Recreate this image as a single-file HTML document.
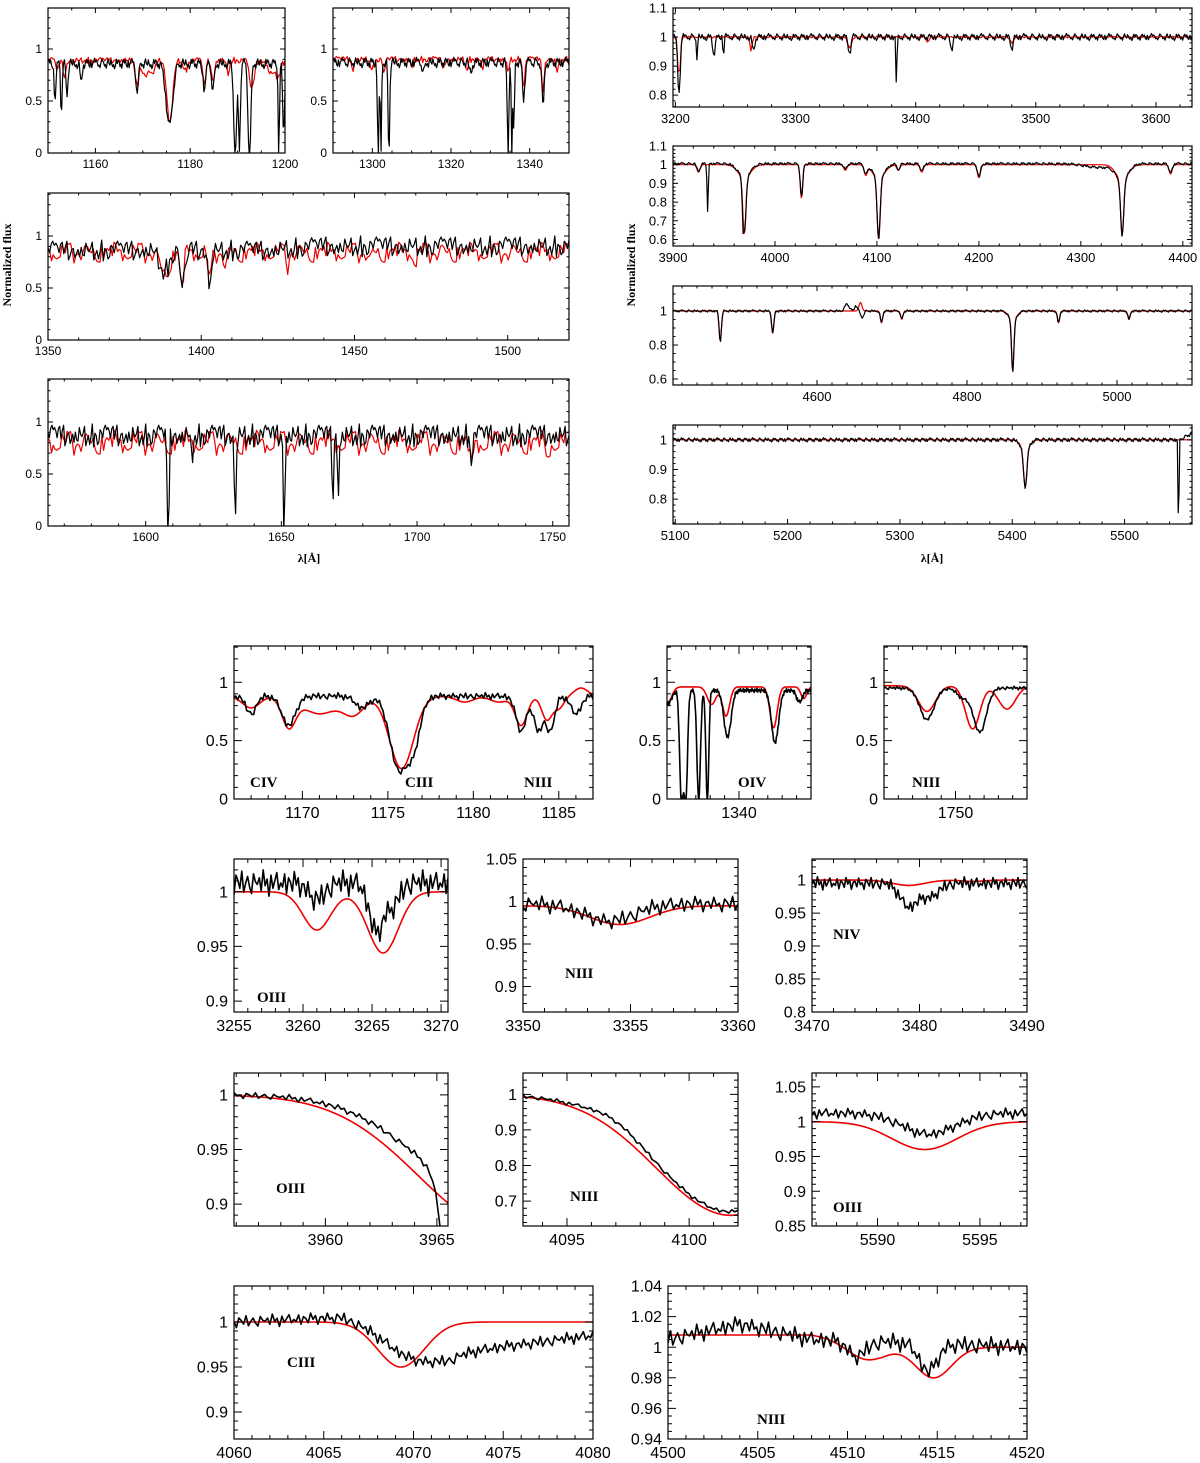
<!DOCTYPE html>
<html><head><meta charset="utf-8"><style>
html,body{margin:0;padding:0;background:#fff;}
svg{display:block;}
</style></head><body>
<svg id="fig" width="1200" height="1463" viewBox="0 0 1200 1463" xmlns="http://www.w3.org/2000/svg">
<rect width="1200" height="1463" fill="#fff"/>
<text x="11" y="265" transform="rotate(-90 11 265)" text-anchor="middle" font-family="Liberation Serif, serif" font-weight="bold" font-size="12">Normalized flux</text>
<text x="635" y="265" transform="rotate(-90 635 265)" text-anchor="middle" font-family="Liberation Serif, serif" font-weight="bold" font-size="12">Normalized flux</text>
<text x="309" y="562" text-anchor="middle" font-family="Liberation Serif, serif" font-weight="bold" font-size="12">λ[Å]</text>
<text x="932" y="562" text-anchor="middle" font-family="Liberation Serif, serif" font-weight="bold" font-size="12">λ[Å]</text>
</svg>
<script>
// shared residual pattern (read as fluctuation shape)
const J = [0.3,-0.5,0.8,-0.2,0.1,-0.9,0.6,0.2,-0.4,0.9,-0.7,0.0,0.5,-0.3,-0.8,0.7,0.1,-0.1,0.4,-0.6,1.0,-0.2,0.3,-1.0,0.6,-0.4,0.2,0.8,-0.5,0.0,-0.3,0.7,-0.8,0.4,0.1,-0.6,0.9,-0.1,0.5,-0.9,0.2];

// line lists: [center, depth, width]
const p1_model_lines = [[1152,.1,.3],[1153.5,.15,.3],[1168.8,.25,.35],[1170.5,.15,.6],[1172,.13,.6],[1175.7,.6,.6],[1179,.1,.4],[1183,.25,.3],[1184.8,.2,.3],[1188,.12,.3],[1193,.28,.5],[1197,.12,.6],[1198.5,.15,.6]];
const p1_obs_lines = [[1151.5,.35,.2],[1152.8,.5,.15],[1154,.3,.2],[1157,.2,.2],[1168.8,.25,.3],[1175.6,.6,.7],[1183,.25,.3],[1184.8,.25,.3],[1189.5,.9,.3],[1190.4,.8,.2],[1192.5,.9,.3],[1198.7,.85,.15],[1199.7,.7,.2]];
const p2_model_lines = [[1295,.1,.3],[1300,.1,.4],[1303,.15,.3],[1310,.08,.3],[1318,.1,.3],[1324,.1,.3],[1328,.12,.3],[1334.5,.12,.3],[1338.5,.25,.3],[1343.4,.3,.3],[1347,.12,.3]];
const p2_obs_lines = [[1301.5,.9,.2],[1302.2,.9,.15],[1304.2,.9,.2],[1313,.1,.3],[1325,.1,.3],[1334.5,.9,.2],[1335.5,.9,.15],[1336,.7,.15],[1338.5,.35,.3],[1343.4,.4,.3]];
const p3_model_lines = [[1388,.2,1.5],[1393.7,.35,.6],[1402.8,.3,.6],[1408,.15,.5],[1428,.12,.5],[1455,.1,.5],[1470,.1,.5]];
const p3_obs_lines = [[1388,.2,1.5],[1393.7,.45,.5],[1395,.2,.4],[1402.8,.35,.5]];
const p3_obs_cont = [[1350,.86],[1420,.86],[1440,.9],[1520,.9]];
const p4_model_lines = [[1720,.25,.6],[1748,.2,.5]];
const p4_obs_lines = [[1608,.7,.25],[1608.5,.8,.25],[1617,.25,.3],[1633,.85,.3],[1651,.95,.3],[1669,.6,.3],[1671,.55,.3],[1720,.2,.5]];
const p5_model_lines = [[3203,.15,1],[3263,.05,.8],[3345,.04,1.5],[3410,.02,1],[3480,.02,1.5]];
const p5_obs_lines = [[3203,.2,1],[3218,.07,.5],[3232,.06,1],[3240,.08,.4],[3265,.05,1],[3345,.06,1],[3384,.2,.4],[3430,.04,1],[3480,.04,1]];
const p6_model_lines = [[3925,.04,1.5],[3970,.3,1.5],[3970,.07,6],[4026,.18,1.2],[4069,.03,1.5],[4089,.05,1.5],[4101.7,.33,1.5],[4101.7,.07,6],[4121,.03,1.5],[4144,.04,1.5],[4200,.07,1.5],[4340.5,.3,1.5],[4340.5,.08,6],[4388,.05,1.5]];
const p6_obs_lines = [[3925,.04,1.5],[3934,.25,.6],[3968.5,.1,.5],[3970,.3,1.5],[3970,.07,6],[4026,.18,1.2],[4069,.03,1.5],[4089,.05,1.5],[4101.7,.33,1.5],[4101.7,.07,6],[4121,.03,1.5],[4144,.04,1.5],[4200,.07,1.5],[4320,.02,15],[4340.5,.3,1.5],[4340.5,.08,6],[4388,.05,1.5]];
const p7_model_lines = [[4471,.18,1.5],[4541,.13,1.5],[4658,-.05,2],[4686,.07,1.5],[4713,.05,1.5],[4861,.3,1.5],[4861,.06,5],[4922,.07,1.5],[5016,.05,1.5]];
const p7_obs_lines = [[4471,.18,1.5],[4541,.13,1.5],[4640,-.04,3],[4652,-.03,2],[4660,.04,2],[4686,.07,1.5],[4713,.05,1.5],[4861,.3,1.5],[4861,.06,5],[4922,.07,1.5],[5016,.05,1.5]];
const p8_model_lines = [[5411.5,.13,1.5],[5411.5,.03,4]];
const p8_obs_lines = [[5411.5,.13,1.5],[5411.5,.03,4],[5548,.35,.4],[5560,-.02,5]];
const pa_model_lines = [[1167,.1,.5],[1169.2,.25,.4],[1171,.15,1],[1173,.15,.6],[1175.8,.62,.7],[1179.5,.05,.5],[1181.5,.05,.5],[1182.8,.25,.35],[1184.3,.2,.3],[1185,.1,.3],[1186.3,-.07,.4]];
const pa_obs_lines = [[1167,.15,.3],[1169.2,.25,.4],[1173.5,.1,.4],[1175.6,.6,.5],[1176.5,.4,.4],[1182.8,.3,.3],[1183.8,.3,.25],[1184.5,.3,.25],[1186,.15,.3]];
const pb_model_lines = [[1335,.15,.3],[1338.1,.15,.3],[1339.1,.25,.25],[1342.4,.35,.25],[1344.5,.1,.2]];
const pb_obs_lines = [[1335,.12,.3],[1336,.95,.12],[1336.3,.95,.12],[1337.2,.95,.12],[1337.8,.95,.1],[1339.2,.4,.25],[1342.5,.45,.25],[1344.2,.1,.2]];
const pc_model_lines = [[1748,.22,.6],[1751.2,.37,.5],[1753.6,.2,.6]];
const pc_obs_lines = [[1748,.27,.5],[1750.5,.08,.4],[1751.7,.38,.45]];
const pd_model_lines = [[3261,.035,1],[3265.8,.056,1.1]];
const pd_obs_lines = [[3261,.015,.6],[3265.3,.045,.5],[3266.5,.02,.5]];
const pe_model_lines = [[3354.5,.022,1.4]];
const pe_obs_lines = [[3354,.02,1.2]];
const pf_model_lines = [[3479,.008,1.5],[3485,.002,1]];
const pf_obs_lines = [[3479,.035,.8],[3481,.02,.8]];
const pg_model_lines = [[3968,.123,3.8]];
const pg_obs_lines = [[3968,.10,3.6],[3966,.2,.5]];
const ph_model_lines = [[4101.7,.34,3.06]];
const ph_obs_lines = [[4101.7,.33,3.0],[4097,-.02,1]];
const pi_model_lines = [[5592.3,.04,1.6]];
const pi_obs_lines = [[5592.5,.03,1.3]];
const pj_model_lines = [[4069.3,.05,1.3]];
const pj_obs_lines = [[4070,.02,1.5]];
const pj_obs_cont = [[4060,1.0],[4066,1.005],[4072,.965],[4080,.985]];
const pk_model_lines = [[4511,.01,1],[4514.8,.02,1]];
const pk_model_cont = [[4500,1.008],[4508,1.008],[4512,1.0],[4520,1.0]];
const pk_obs_lines = [[4510.5,.01,.5],[4514.5,.018,.5]];
const pk_obs_cont = [[4500,1.005],[4504,1.015],[4508,1.005],[4520,1.0]];

const NS = 'http://www.w3.org/2000/svg';
const svg = document.getElementById('fig');
function el(t, a, p){ const e=document.createElementNS(NS,t); for(const k in a) e.setAttribute(k,a[k]); (p||svg).appendChild(e); return e; }
function contAt(c,x){ if(typeof c==='number') return c; if(x<=c[0][0]) return c[0][1]; for(let i=1;i<c.length;i++){ if(x<=c[i][0]){const t=(x-c[i-1][0])/(c[i][0]-c[i-1][0]); return c[i-1][1]+t*(c[i][1]-c[i-1][1]);} } return c[c.length-1][1]; }
let clipId=0;
function panel(P){
  const g=el('g',{});
  
  
  const sx=v=>P.x0+(v-P.xr[0])/(P.xr[1]-P.xr[0])*(P.x1-P.x0);
  const sy=v=>P.y1-(v-P.yr[0])/(P.yr[1]-P.yr[0])*(P.y1-P.y0);
  const cid='c'+(clipId++);
  const cp=el('clipPath',{id:cid},g); el('rect',{x:P.x0,y:P.y0,width:P.x1-P.x0,height:P.y1-P.y0},cp);
  const sg=el('g',{'clip-path':'url(#'+cid+')'},g);
  P.series.forEach(s=>{
    let d='';
    for(let i=0;i<=s.n;i++){
      const x=P.xr[0]+(P.xr[1]-P.xr[0])*i/s.n;
      let y=contAt(s.cont,x);
      s.lines.forEach(l=>{ y-=l[1]*Math.exp(-(x-l[0])*(x-l[0])/(2*l[2]*l[2])); });
      y+=(s.amp||0)*J[(i*(s.stride||1)+(s.phase||0))%J.length];
      if(y<P.yr[0]-0.05) y=P.yr[0]-0.05;
      d+=(i?'L':'M')+sx(x).toFixed(1)+' '+sy(y).toFixed(1);
    }
    const pth=el('path',{d:d,fill:'none',stroke:s.color,'stroke-width':s.w||1.2,'stroke-linejoin':'round'},sg);
    
    
  });
  el('rect',{x:P.x0,y:P.y0,width:P.x1-P.x0,height:P.y1-P.y0,fill:'none',stroke:'#000','stroke-width':1.2},g);
  const tl=P.tl, fs=P.fs;
  let d='';
  for(let v=Math.ceil(P.xr[0]/P.xmin-1e-9)*P.xmin; v<=P.xr[1]+1e-9; v+=P.xmin){ const X=sx(v); d+=`M${X} ${P.y1}v${-tl/2}M${X} ${P.y0}v${tl/2}`; }
  for(let v=Math.ceil(P.yr[0]/P.ymin-1e-9)*P.ymin; v<=P.yr[1]+1e-9; v+=P.ymin){ const Y=sy(v); d+=`M${P.x0} ${Y}h${tl/2}M${P.x1} ${Y}h${-tl/2}`; }
  P.xt.forEach(v=>{ const X=sx(v); d+=`M${X} ${P.y1}v${-tl}M${X} ${P.y0}v${tl}`; });
  P.yt.forEach(v=>{ const Y=sy(v); d+=`M${P.x0} ${Y}h${tl}M${P.x1} ${Y}h${-tl}`; });
  el('path',{d:d,stroke:'#000','stroke-width':1,fill:'none'},g);
  P.xl.forEach((lab,i)=>{ const t=el('text',{x:sx(P.xt[i]),y:P.y1+fs+3,'text-anchor':'middle','font-family':'Liberation Sans, sans-serif','font-size':fs},g); t.textContent=lab;
      });
  P.yl.forEach((lab,i)=>{ const t=el('text',{x:P.x0-6,y:sy(P.yt[i])+fs*0.35,'text-anchor':'end','font-family':'Liberation Sans, sans-serif','font-size':fs},g); t.textContent=lab;
      });
  (P.labels||[]).forEach(L=>{ const t=el('text',{x:L[1],y:L[2],'font-family':'Liberation Serif, serif','font-weight':'bold','font-size':15},g); t.textContent=L[0];
      });
}
const R='#e00', K='#000';
const topY=[0,.5,1], topYL=['0','0.5','1'];
const topCfg={tl:5,fs:12,ymin:.1};
panel(Object.assign({name:'panel-1150-1200',x0:48,y0:8,x1:285,y1:153,xr:[1150,1200],yr:[0,1.394],xt:[1160,1180,1200],xl:['1160','1180','1200'],xmin:5,yt:topY,yl:topYL,
 series:[{cont:.89,lines:p1_model_lines,amp:.03,n:200,stride:3,color:R},{cont:.86,lines:p1_obs_lines,amp:.05,n:260,stride:2,color:K}]},topCfg));
panel(Object.assign({name:'panel-1290-1350',x0:333,y0:8,x1:569,y1:153,xr:[1290,1350],yr:[0,1.394],xt:[1300,1320,1340],xl:['1300','1320','1340'],xmin:5,yt:topY,yl:topYL,
 series:[{cont:.9,lines:p2_model_lines,amp:.03,n:200,stride:3,color:R},{cont:.87,lines:p2_obs_lines,amp:.05,n:260,stride:2,color:K}]},topCfg));
panel(Object.assign({name:'panel-1350-1520',x0:48,y0:193,x1:569,y1:340,xr:[1350,1520],yr:[0,1.413],xt:[1350,1400,1450,1500],xl:['1350','1400','1450','1500'],xmin:10,yt:topY,yl:topYL,
 series:[{cont:.84,lines:p3_model_lines,amp:.1,n:300,stride:7,color:R},{cont:p3_obs_cont,lines:p3_obs_lines,amp:.1,n:330,stride:3,color:K}]},topCfg));
panel(Object.assign({name:'panel-1564-1756',x0:48,y0:379,x1:569,y1:526,xr:[1564,1756],yr:[0,1.413],xt:[1600,1650,1700,1750],xl:['1600','1650','1700','1750'],xmin:10,yt:topY,yl:topYL,
 series:[{cont:.8,lines:p4_model_lines,amp:.12,n:300,stride:7,color:R},{cont:.87,lines:p4_obs_lines,amp:.11,n:400,stride:3,color:K}]},topCfg));
panel({name:'panel-3200-3600',x0:673,y0:8,x1:1192,y1:107,xr:[3198,3630],yr:[.759,1.1],xt:[3200,3300,3400,3500,3600],xl:['3200','3300','3400','3500','3600'],xmin:20,yt:[.8,.9,1,1.1],yl:['0.8','0.9','1','1.1'],tl:5,fs:13,ymin:.02,
 series:[{cont:1,lines:p5_model_lines,amp:.003,n:300,color:R},{cont:1.0,lines:p5_obs_lines,amp:.012,n:500,stride:2,color:K}]});
panel({name:'panel-3900-4400',x0:673,y0:146,x1:1192,y1:246,xr:[3900,4409],yr:[.565,1.1],xt:[3900,4000,4100,4200,4300,4400],xl:['3900','4000','4100','4200','4300','4400'],xmin:20,yt:[.6,.7,.8,.9,1,1.1],yl:['0.6','0.7','0.8','0.9','1','1.1'],tl:5,fs:13,ymin:.02,
 series:[{cont:1,lines:p6_model_lines,amp:0,n:700,color:R},{cont:1.005,lines:p6_obs_lines,amp:.007,n:600,stride:2,color:K}]});
panel({name:'panel-4400-5100',x0:673,y0:286,x1:1192,y1:385,xr:[4408,5100],yr:[.565,1.147],xt:[4600,4800,5000],xl:['4600','4800','5000'],xmin:20,yt:[.6,.8,1],yl:['0.6','0.8','1'],tl:5,fs:13,ymin:.05,
 series:[{cont:1,lines:p7_model_lines,amp:0,n:800,color:R},{cont:1.0,lines:p7_obs_lines,amp:.007,n:600,stride:2,color:K}]});
panel({name:'panel-5100-5560',x0:673,y0:425,x1:1192,y1:524,xr:[5098,5560],yr:[.716,1.05],xt:[5100,5200,5300,5400,5500],xl:['5100','5200','5300','5400','5500'],xmin:20,yt:[.8,.9,1],yl:['0.8','0.9','1'],tl:5,fs:13,ymin:.02,
 series:[{cont:1,lines:p8_model_lines,amp:0,n:600,color:R},{cont:1.0,lines:p8_obs_lines,amp:.007,n:600,stride:2,color:K}]});

const botCfg={tl:8,fs:16};
const r1Y=[0,.5,1], r1YL=['0','0.5','1'];
panel(Object.assign({name:'zoom-1166-1187',x0:234,y0:646,x1:593,y1:799,xr:[1166,1187],yr:[0,1.31],xt:[1170,1175,1180,1185],xl:['1170','1175','1180','1185'],xmin:1,yt:r1Y,yl:r1YL,ymin:.1,
 labels:[['CIV',250,787],['CIII',405,787],['NIII',524,787]],
 series:[{cont:.88,lines:pa_model_lines,amp:0,n:400,color:R,w:1.6},{cont:.88,lines:pa_obs_lines,amp:.03,n:200,phase:3,color:K,w:1.6}]},botCfg));
panel(Object.assign({name:'zoom-1335-1345',x0:667,y0:646,x1:811,y1:799,xr:[1335,1345],yr:[0,1.31],xt:[1340],xl:['1340'],xmin:1,yt:r1Y,yl:r1YL,ymin:.1,
 labels:[['OIV',738,787]],
 series:[{cont:.96,lines:pb_model_lines,amp:0,n:300,color:R,w:1.6},{cont:.93,lines:pb_obs_lines,amp:.02,n:200,phase:7,color:K,w:1.6}]},botCfg));
panel(Object.assign({name:'zoom-1745-1755',x0:884,y0:646,x1:1027,y1:799,xr:[1745,1755],yr:[0,1.31],xt:[1750],xl:['1750'],xmin:1,yt:r1Y,yl:r1YL,ymin:.1,
 labels:[['NIII',912,787]],
 series:[{cont:.97,lines:pc_model_lines,amp:0,n:300,color:R,w:1.6},{cont:.95,lines:pc_obs_lines,amp:.015,n:100,phase:11,color:K,w:1.6}]},botCfg));
panel(Object.assign({name:'zoom-3255-3270',x0:234,y0:859,x1:448,y1:1012,xr:[3255,3270.5],yr:[.89,1.03],xt:[3255,3260,3265,3270],xl:['3255','3260','3265','3270'],xmin:1,yt:[.9,.95,1],yl:['0.9','0.95','1'],ymin:.01,
 labels:[['OIII',257,1002]],
 series:[{cont:1,lines:pd_model_lines,amp:0,n:300,color:R,w:1.6},{cont:1.008,lines:pd_obs_lines,amp:.012,n:110,phase:5,color:K,w:1.6}]},botCfg));
panel(Object.assign({name:'zoom-3350-3360',x0:523,y0:859,x1:738,y1:1012,xr:[3350,3360],yr:[.87,1.05],xt:[3350,3355,3360],xl:['3350','3355','3360'],xmin:1,yt:[.9,.95,1,1.05],yl:['0.9','0.95','1','1.05'],ymin:.01,
 labels:[['NIII',565,978]],
 series:[{cont:.995,lines:pe_model_lines,amp:0,n:300,color:R,w:1.6},{cont:.997,lines:pe_obs_lines,amp:.01,n:80,phase:13,color:K,w:1.6}]},botCfg));
panel(Object.assign({name:'zoom-3470-3490',x0:812,y0:859,x1:1027,y1:1012,xr:[3470,3490],yr:[.8,1.032],xt:[3470,3480,3490],xl:['3470','3480','3490'],xmin:2,yt:[.8,.85,.9,.95,1],yl:['0.8','0.85','0.9','0.95','1'],ymin:.01,
 labels:[['NIV',833,939]],
 series:[{cont:1,lines:pf_model_lines,amp:0,n:300,color:R,w:1.6},{cont:.995,lines:pf_obs_lines,amp:.01,n:120,phase:17,color:K,w:1.6}]},botCfg));
panel(Object.assign({name:'zoom-3956-3965',x0:234,y0:1073,x1:448,y1:1226,xr:[3955.9,3965.5],yr:[.88,1.02],xt:[3960,3965],xl:['3960','3965'],xmin:1,yt:[.9,.95,1],yl:['0.9','0.95','1'],ymin:.01,
 labels:[['OIII',276,1193]],
 series:[{cont:1,lines:pg_model_lines,amp:0,n:300,color:R,w:1.6},{cont:1.0,lines:pg_obs_lines,amp:.003,n:70,phase:2,color:K,w:1.6}]},botCfg));
panel(Object.assign({name:'zoom-4093-4102',x0:523,y0:1073,x1:738,y1:1226,xr:[4093.2,4102],yr:[.63,1.06],xt:[4095,4100],xl:['4095','4100'],xmin:1,yt:[.7,.8,.9,1],yl:['0.7','0.8','0.9','1'],ymin:.02,
 labels:[['NIII',570,1201]],
 series:[{cont:1,lines:ph_model_lines,amp:0,n:300,color:R,w:1.6},{cont:1.0,lines:ph_obs_lines,amp:.006,n:70,phase:9,color:K,w:1.6}]},botCfg));
panel(Object.assign({name:'zoom-5587-5597',x0:812,y0:1073,x1:1027,y1:1226,xr:[5586.8,5597.3],yr:[.85,1.07],xt:[5590,5595],xl:['5590','5595'],xmin:1,yt:[.85,.9,.95,1,1.05],yl:['0.85','0.9','0.95','1','1.05'],ymin:.01,
 labels:[['OIII',833,1212]],
 series:[{cont:1,lines:pi_model_lines,amp:0,n:300,color:R,w:1.6},{cont:1.012,lines:pi_obs_lines,amp:.008,n:90,phase:21,color:K,w:1.6}]},botCfg));
panel(Object.assign({name:'zoom-4060-4080',x0:234,y0:1286,x1:593,y1:1439,xr:[4060,4080],yr:[.87,1.04],xt:[4060,4065,4070,4075,4080],xl:['4060','4065','4070','4075','4080'],xmin:1,yt:[.9,.95,1],yl:['0.9','0.95','1'],ymin:.01,
 labels:[['CIII',287,1367]],
 series:[{cont:1,lines:pj_model_lines,amp:0,n:400,color:R,w:1.6},{cont:pj_obs_cont,lines:pj_obs_lines,amp:.007,n:150,phase:4,color:K,w:1.6}]},botCfg));
panel(Object.assign({name:'zoom-4500-4520',x0:668,y0:1286,x1:1027,y1:1439,xr:[4500,4520],yr:[.94,1.04],xt:[4500,4505,4510,4515,4520],xl:['4500','4505','4510','4515','4520'],xmin:1,yt:[.94,.96,.98,1,1.02,1.04],yl:['0.94','0.96','0.98','1','1.02','1.04'],ymin:.005,
 labels:[['NIII',757,1424]],
 series:[{cont:pk_model_cont,lines:pk_model_lines,amp:0,n:400,color:R,w:1.6},{cont:pk_obs_cont,lines:pk_obs_lines,amp:.006,n:150,phase:8,color:K,w:1.6}]},botCfg));
</script>
</body></html>
